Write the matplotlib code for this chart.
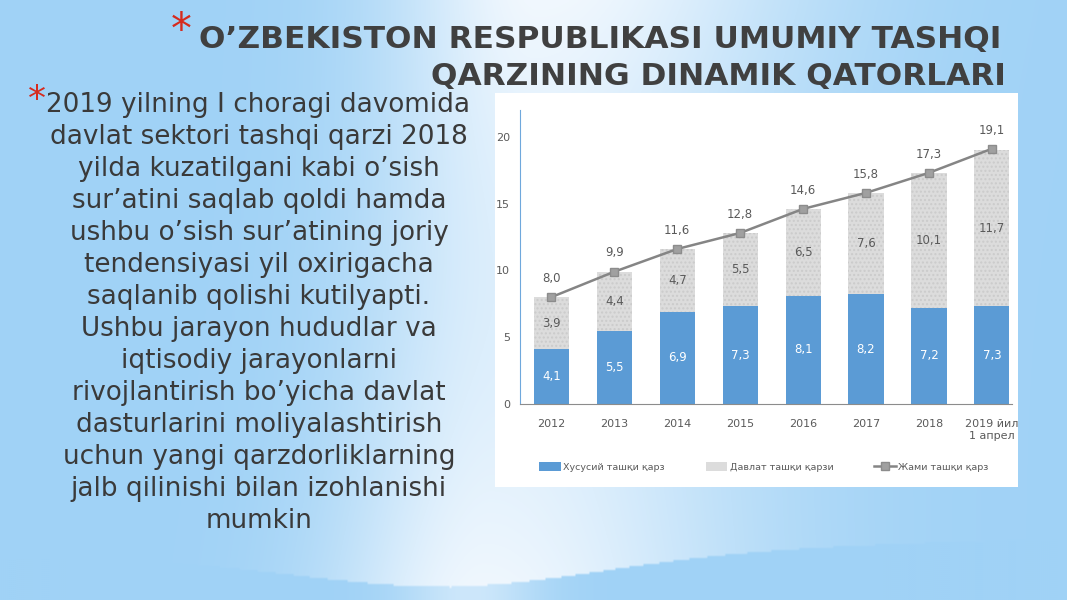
import numpy as np
import matplotlib
matplotlib.use("Agg")
import matplotlib.pyplot as plt
from matplotlib.patches import Rectangle
from matplotlib.lines import Line2D

plt.rcParams['font.family'] = ['DejaVu Sans']

# ---- data ----
categories = ["2012", "2013", "2014", "2015", "2016", "2017", "2018", "2019 йил\n1 апрел"]
private_debt = [4.1, 5.5, 6.9, 7.3, 8.1, 8.2, 7.2, 7.3]
state_debt = [3.9, 4.4, 4.7, 5.5, 6.5, 7.6, 10.1, 11.7]
total_debt = [8.0, 9.9, 11.6, 12.8, 14.6, 15.8, 17.3, 19.1]
series_names = ["Хусусий ташқи қарз", "Давлат ташқи қарзи", "Жами ташқи қарз"]
yticks = [0, 5, 10, 15, 20]

title_line1 = "O’ZBEKISTON RESPUBLIKASI UMUMIY TASHQI"
title_line2 = "QARZINING DINAMIK QATORLARI"
body_lines = [
    "2019 yilning I choragi davomida",
    "davlat sektori tashqi qarzi 2018",
    "yilda kuzatilgani kabi o’sish",
    "sur’atini saqlab qoldi hamda",
    "ushbu o’sish sur’atining joriy",
    "tendensiyasi yil oxirigacha",
    "saqlanib qolishi kutilyapti.",
    "Ushbu jarayon hududlar va",
    "iqtisodiy jarayonlarni",
    "rivojlantirish bo’yicha davlat",
    "dasturlarini moliyalashtirish",
    "uchun yangi qarzdorliklarning",
    "jalb qilinishi bilan izohlanishi",
    "mumkin",
]

W, H = 1067, 600
fig = plt.figure(figsize=(W / 100, H / 100), dpi=100)

# ---- background gradient ----
bg = fig.add_axes([0, 0, 1, 1], zorder=0)
bg.set_axis_off()
px, py = np.meshgrid(np.arange(0, W, 2.0), np.arange(0, H, 2.0))
blue = np.array([160, 210, 246]) / 255.0
white = np.array([250, 252, 255]) / 255.0
cx = 540 - 60 * (py / H)
dx = px - cx
sig = np.where(dx < 0, 150.0, 260.0)
w = 0.9 * np.exp(-(dx / sig) ** 2) * (1 - 0.25 * np.sin(np.pi * py / H))
boundary = 586 - 30 * (1 - np.exp(-((px - 450) / 220) ** 2)) - 0.03 * np.clip(px - 450, 0, None)
below = py > boundary
w_below = 0.5 * np.exp(-((px - 470) / 70) ** 2)
w = np.where(below, w_below, w)
w = np.clip(w, 0, 1)
img = blue[None, None, :] * (1 - w[..., None]) + white[None, None, :] * w[..., None]
bg.imshow(img, extent=[0, 1, 0, 1], aspect="auto", origin="upper", interpolation="bilinear")
bg.set_xlim(0, 1)
bg.set_ylim(0, 1)

# chart panel (white)
bg.add_patch(Rectangle((495 / W, 1 - 487 / H), (1018 - 495) / W, (487 - 93) / H,
                       transform=bg.transAxes, facecolor="white", edgecolor="none", zorder=2))

renderer = fig.canvas.get_renderer()

def fit_width(t, target_px):
    bb = t.get_window_extent(renderer=renderer)
    t.set_fontsize(t.get_fontsize() * target_px / bb.width)

# ---- title ----
tcol = "#404040"
fig.text(181 / W, 1 - 43 / H, "*", color="#d62b1e", fontsize=30, ha="center", va="baseline")
t1 = fig.text(600 / W, 1 - 48 / H, title_line1, color=tcol, fontsize=20, ha="center", va="baseline",
              fontweight="bold")
fit_width(t1, 800)
t2 = fig.text(1006 / W, 1 - 85 / H, title_line2, color=tcol, fontsize=t1.get_fontsize(), ha="right",
              va="baseline", fontweight="bold")

# ---- body text ----
fig.text(37 / W, 1 - 110 / H, "*", color="#d62b1e", fontsize=26, ha="center", va="baseline")
b0 = fig.text(258 / W, 1 - 112 / H, body_lines[0], color="#3a3a3a", fontsize=18,
              ha="center", va="baseline")
fit_width(b0, 423)
fs = b0.get_fontsize()
for i, line in enumerate(body_lines[1:], start=1):
    fig.text(259 / W, 1 - (112 + i * 32.0) / H, line, color="#3a3a3a", fontsize=fs,
             ha="center", va="baseline")

ax = fig.add_axes([520 / W, 1 - 404 / H, (1012 - 520) / W, (404 - 110) / H], zorder=3)
ax.set_facecolor("white")
x = np.arange(len(categories))
bw = 0.56
blue_c = "#5b9bd5"
gray_c = "#dcdcdc"
ax.bar(x, private_debt, bw, color=blue_c, zorder=2)
ax.bar(x, state_debt, bw, bottom=private_debt, facecolor=gray_c, edgecolor="#cbcbcb",
       linewidth=0, hatch="....", zorder=2)
ax.plot(x, total_debt, color="#858585", lw=1.8, marker="s", markersize=6,
        markerfacecolor="#a0a0a0", markeredgecolor="#8c8c8c", zorder=3)

def fmt(v):
    return f"{v:.1f}".replace(".", ",")

lab_c = "#5a5a5a"
for i in range(len(x)):
    ax.text(x[i], private_debt[i] / 2, fmt(private_debt[i]), ha="center", va="center",
            color="white", fontsize=8.5, zorder=4)
    ax.text(x[i], private_debt[i] + state_debt[i] / 2, fmt(state_debt[i]), ha="center", va="center",
            color=lab_c, fontsize=8.5, zorder=4)
    ax.text(x[i], total_debt[i] + 1.4, fmt(total_debt[i]), ha="center", va="center",
            color=lab_c, fontsize=8.5, zorder=4)

ax.set_xlim(-0.5, 7.32)
ax.set_ylim(0, 22)
ax.set_yticks(yticks)
ax.set_yticklabels([str(t) for t in yticks], color=lab_c, fontsize=8)
ax.set_xticks(x)
ax.set_xticklabels(categories, color=lab_c, fontsize=8)
ax.tick_params(axis="both", length=0)
ax.tick_params(axis="y", pad=7)
ax.tick_params(axis="x", pad=11)
for s in ["top", "right"]:
    ax.spines[s].set_visible(False)
ax.spines["left"].set_color("#6fa8dc")
ax.spines["bottom"].set_color("#8c8c8c")

handles = [
    Rectangle((0, 0), 1, 1, facecolor=blue_c),
    Rectangle((0, 0), 1, 1, facecolor=gray_c),
    Line2D([0], [0], color="#858585", lw=1.8, marker="s", markersize=6,
           markerfacecolor="#a0a0a0", markeredgecolor="#8c8c8c"),
]
leg = fig.legend(handles, series_names, loc="center", bbox_to_anchor=(764 / W, 1 - 467 / H), ncol=3,
                 frameon=False, fontsize=6.8, handlelength=2.3, handleheight=1.0, columnspacing=4.3,
                 handletextpad=0.25, labelcolor=lab_c)
leg.set_zorder(5)

fig.savefig("out.png", dpi=100)
